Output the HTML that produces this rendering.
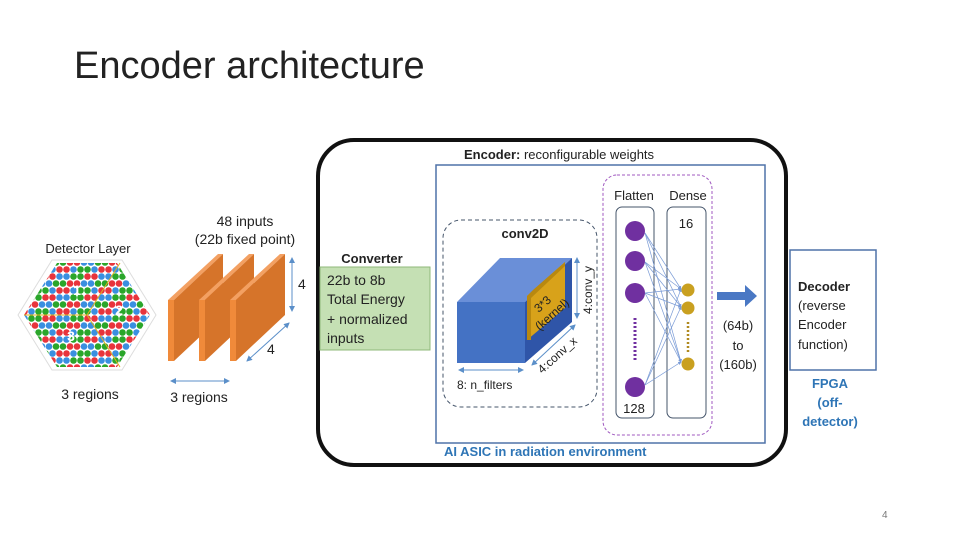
<!DOCTYPE html>
<html><head><meta charset="utf-8"><style>
body{margin:0;background:#fff;}
svg{display:block;font-family:"Liberation Sans",sans-serif;}
</style></head><body>
<svg width="960" height="540" viewBox="0 0 960 540" xmlns="http://www.w3.org/2000/svg">
<defs>
<pattern id="dots" x="0" y="0" width="42" height="21" patternUnits="userSpaceOnUse">
<rect width="42" height="21" fill="#fff"/>
<circle cx="3.5" cy="3.5" r="3.3" fill="#e8343c"/><circle cx="10.5" cy="3.5" r="3.3" fill="#e8343c"/><circle cx="17.5" cy="3.5" r="3.3" fill="#3a8fe0"/><circle cx="24.5" cy="3.5" r="3.3" fill="#3a8fe0"/><circle cx="31.5" cy="3.5" r="3.3" fill="#2aa62a"/><circle cx="38.5" cy="3.5" r="3.3" fill="#2aa62a"/>
<circle cx="7" cy="10.5" r="3.3" fill="#3a8fe0"/><circle cx="14" cy="10.5" r="3.3" fill="#2aa62a"/><circle cx="21" cy="10.5" r="3.3" fill="#2aa62a"/><circle cx="28" cy="10.5" r="3.3" fill="#e8343c"/><circle cx="35" cy="10.5" r="3.3" fill="#e8343c"/><circle cx="0" cy="10.5" r="3.3" fill="#3a8fe0"/><circle cx="42" cy="10.5" r="3.3" fill="#3a8fe0"/>
<circle cx="3.5" cy="17.5" r="3.3" fill="#2aa62a"/><circle cx="10.5" cy="17.5" r="3.3" fill="#3a8fe0"/><circle cx="17.5" cy="17.5" r="3.3" fill="#e8343c"/><circle cx="24.5" cy="17.5" r="3.3" fill="#e8343c"/><circle cx="31.5" cy="17.5" r="3.3" fill="#3a8fe0"/><circle cx="38.5" cy="17.5" r="3.3" fill="#2aa62a"/>
</pattern>
<marker id="ah" markerWidth="6" markerHeight="6" refX="5" refY="3" orient="auto"><path d="M0,0L6,3L0,6z" fill="#5b8fc9"/></marker>
<marker id="ah2" markerWidth="6" markerHeight="6" refX="1" refY="3" orient="auto"><path d="M6,0L0,3L6,6z" fill="#5b8fc9"/></marker>
<marker id="an" markerWidth="5" markerHeight="5" refX="4" refY="2.5" orient="auto"><path d="M0,0L5,2.5L0,5z" fill="#7a9bd6"/></marker>
</defs>

<text x="74" y="78" font-size="38" fill="#222">Encoder architecture</text>

<!-- detector -->
<text x="88" y="253" font-size="13" text-anchor="middle" fill="#222">Detector Layer</text>
<polygon points="52,260 122,260 156,315 122,370 52,370 18,315" fill="#fff" stroke="#ddd" stroke-width="1"/>
<polygon points="57,263 117,263 150,315 117,367 57,367 24,315" fill="url(#dots)"/>
<line x1="87" y1="315" x2="120" y2="263" stroke="#e0b020" stroke-width="1"/>
<line x1="87" y1="315" x2="120" y2="367" stroke="#e0b020" stroke-width="1"/>
<line x1="87" y1="315" x2="24" y2="315" stroke="#e0b020" stroke-width="1"/>
<text x="77" y="295" font-size="14" font-weight="bold" fill="#fff" text-anchor="middle">1</text>
<text x="119" y="315" font-size="14" font-weight="bold" fill="#fff" text-anchor="middle">2</text>
<text x="71" y="341" font-size="14" font-weight="bold" fill="#fff" text-anchor="middle">3</text>
<text x="90" y="399" font-size="14" text-anchor="middle" fill="#222">3 regions</text>

<!-- plates -->
<text x="245" y="226" font-size="14" text-anchor="middle" fill="#222">48 inputs</text>
<text x="245" y="244" font-size="14" text-anchor="middle" fill="#222">(22b fixed point)</text>
<g>
<polygon points="168,300 218,254 223,254 174,300" fill="#f3a062"/>
<polygon points="174,300 223,254 223,315 174,361" fill="#d6742a"/>
<polygon points="168,300 174,300 174,361 168,361" fill="#f08a3a"/>
</g>
<g transform="translate(31,0)">
<polygon points="168,300 218,254 223,254 174,300" fill="#f3a062"/>
<polygon points="174,300 223,254 223,315 174,361" fill="#d6742a"/>
<polygon points="168,300 174,300 174,361 168,361" fill="#f08a3a"/>
</g>
<g transform="translate(62,0)">
<polygon points="168,300 218,254 223,254 174,300" fill="#f3a062"/>
<polygon points="174,300 223,254 223,315 174,361" fill="#d6742a"/>
<polygon points="168,300 174,300 174,361 168,361" fill="#f08a3a"/>
</g>
<line x1="292" y1="258" x2="292" y2="311" stroke="#5b8fc9" stroke-width="1" marker-end="url(#ah)" marker-start="url(#ah2)"/>
<text x="298" y="289" font-size="14" fill="#222">4</text>
<line x1="247" y1="361" x2="289" y2="323" stroke="#5b8fc9" stroke-width="1" marker-end="url(#ah)" marker-start="url(#ah2)"/>
<text x="267" y="354" font-size="14" fill="#222">4</text>
<line x1="171" y1="381" x2="229" y2="381" stroke="#5b8fc9" stroke-width="1" marker-end="url(#ah)" marker-start="url(#ah2)"/>
<text x="199" y="402" font-size="14" text-anchor="middle" fill="#222">3 regions</text>

<!-- outer box -->
<rect x="318" y="140" width="468" height="325" rx="36" fill="none" stroke="#111" stroke-width="4"/>

<!-- converter -->
<text x="372" y="263" font-size="13" font-weight="bold" text-anchor="middle" fill="#222">Converter</text>
<rect x="320" y="267" width="110" height="83" fill="#c5e0b4" stroke="#8fb87a" stroke-width="1"/>
<text font-size="14" fill="#222"><tspan x="327" y="285">22b to 8b</tspan><tspan x="327" y="304">Total Energy</tspan><tspan x="327" y="324">+ normalized</tspan><tspan x="327" y="343">inputs</tspan></text>

<!-- encoder -->
<text x="464" y="159" font-size="13" fill="#222"><tspan font-weight="bold">Encoder:</tspan> reconfigurable weights</text>
<rect x="436" y="165" width="329" height="278" fill="none" stroke="#4f72a8" stroke-width="1.5"/>
<text x="444" y="456" font-size="13" font-weight="bold" fill="#2e75b6">AI ASIC in radiation environment</text>

<!-- conv2D -->
<rect x="443" y="220" width="154" height="187" rx="18" fill="none" stroke="#44546a" stroke-width="1" stroke-dasharray="4,3"/>
<text x="525" y="238" font-size="13" font-weight="bold" text-anchor="middle" fill="#222">conv2D</text>
<polygon points="457,302 500,258 572,258 525,302" fill="#6a8fd8"/>
<polygon points="525,302 572,258 572,322 525,363" fill="#2f55a8"/>
<rect x="457" y="302" width="68" height="61" fill="#4472c4"/>
<polygon points="527,296 565,262 565,308 527,340" fill="#d8a21a"/>
<polygon points="527,296 533,290 565,262 565,266 531,298 531,340 527,340" fill="#b88810"/>
<text transform="translate(548,310) rotate(-42)" font-size="12" text-anchor="middle" fill="#222"><tspan x="0" y="-4">3*3</tspan><tspan x="0" y="10">(kernel)</tspan></text>
<line x1="577" y1="258" x2="577" y2="318" stroke="#5b8fc9" stroke-width="1" marker-end="url(#ah)" marker-start="url(#ah2)"/>
<text transform="translate(592,290) rotate(-90)" font-size="12" text-anchor="middle" fill="#222">4:conv_y</text>
<line x1="532" y1="365" x2="575" y2="325" stroke="#5b8fc9" stroke-width="1" marker-end="url(#ah)" marker-start="url(#ah2)"/>
<text transform="translate(560,358) rotate(-42)" font-size="12" text-anchor="middle" fill="#222">4:conv_x</text>
<line x1="459" y1="370" x2="523" y2="370" stroke="#5b8fc9" stroke-width="1" marker-end="url(#ah)" marker-start="url(#ah2)"/>
<text x="457" y="389" font-size="12" fill="#222">8: n_filters</text>

<!-- flatten/dense -->
<rect x="603" y="175" width="109" height="260" rx="14" fill="none" stroke="#a05ac0" stroke-width="1" stroke-dasharray="3,2"/>
<text x="634" y="200" font-size="13" text-anchor="middle" fill="#222">Flatten</text>
<text x="688" y="200" font-size="13" text-anchor="middle" fill="#222">Dense</text>
<rect x="616" y="207" width="38" height="211" rx="6" fill="none" stroke="#44546a" stroke-width="1"/>
<rect x="667" y="207" width="39" height="211" rx="6" fill="none" stroke="#44546a" stroke-width="1"/>
<text x="686" y="228" font-size="13" text-anchor="middle" fill="#222">16</text>
<text x="634" y="413" font-size="13" text-anchor="middle" fill="#222">128</text>
<g stroke="#7a9bd6" stroke-width="0.7" marker-end="url(#an)">
<line x1="645" y1="233" x2="681" y2="289"/><line x1="645" y1="233" x2="681" y2="307"/><line x1="645" y1="233" x2="681" y2="362"/>
<line x1="645" y1="262" x2="681" y2="289"/><line x1="645" y1="262" x2="681" y2="307"/><line x1="645" y1="262" x2="681" y2="362"/>
<line x1="645" y1="293" x2="681" y2="289"/><line x1="645" y1="293" x2="681" y2="307"/><line x1="645" y1="293" x2="681" y2="362"/>
<line x1="645" y1="385" x2="681" y2="289"/><line x1="645" y1="385" x2="681" y2="307"/><line x1="645" y1="385" x2="681" y2="362"/>
</g>
<circle cx="635" cy="231" r="10" fill="#7030a0"/>
<circle cx="635" cy="261" r="10" fill="#7030a0"/>
<circle cx="635" cy="293" r="10" fill="#7030a0"/>
<circle cx="635" cy="387" r="10" fill="#7030a0"/>
<line x1="635" y1="318" x2="635" y2="362" stroke="#7030a0" stroke-width="3" stroke-dasharray="2,2"/>
<circle cx="688" cy="290" r="6.5" fill="#c9a020"/>
<circle cx="688" cy="308" r="6.5" fill="#c9a020"/>
<circle cx="688" cy="364" r="6.5" fill="#c9a020"/>
<line x1="688" y1="322" x2="688" y2="352" stroke="#b08a20" stroke-width="2.5" stroke-dasharray="2,2"/>

<!-- arrow -->
<polygon points="717,292 745,292 745,285 757,296 745,307 745,300 717,300" fill="#4a78c4"/>
<text font-size="13" fill="#222" text-anchor="middle"><tspan x="738" y="330">(64b)</tspan><tspan x="738" y="350">to</tspan><tspan x="738" y="369">(160b)</tspan></text>

<!-- decoder -->
<rect x="790" y="250" width="86" height="120" fill="#fff" stroke="#4f72a8" stroke-width="1.5"/>
<text font-size="13" fill="#222"><tspan x="798" y="291" font-weight="bold">Decoder</tspan><tspan x="798" y="310">(reverse</tspan><tspan x="798" y="329">Encoder</tspan><tspan x="798" y="349">function)</tspan></text>
<text font-size="13" font-weight="bold" fill="#2e75b6" text-anchor="middle"><tspan x="830" y="388">FPGA</tspan><tspan x="830" y="407">(off-</tspan><tspan x="830" y="426">detector)</tspan></text>

<text x="882" y="518" font-size="10" fill="#777">4</text>
</svg>
</body></html>
